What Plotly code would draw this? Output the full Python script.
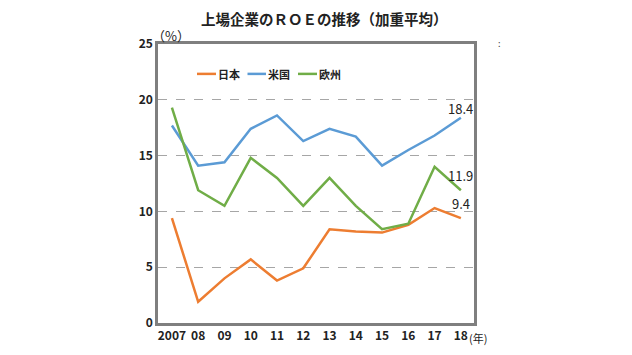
import plotly.graph_objects as go

years = ["2007", "08", "09", "10", "11", "12", "13", "14", "15", "16", "17", "18"]
japan = [9.4, 1.9, 4.0, 5.7, 3.8, 4.9, 8.4, 8.2, 8.1, 8.8, 10.3, 9.4]
usa = [17.7, 14.1, 14.4, 17.4, 18.6, 16.3, 17.4, 16.7, 14.1, 15.5, 16.8, 18.4]
europe = [19.3, 11.9, 10.5, 14.8, 13.0, 10.5, 13.0, 10.5, 8.4, 8.9, 14.0, 11.9]
series_names = ["日本", "米国", "欧州"]
colors = ["#ED7D31", "#5B9BD5", "#70AD47"]
end_labels = ["9.4", "18.4", "11.9"]
label_shift = [15, 9, 15]
title_text = "上場企業のＲＯＥの推移（加重平均）"

FONT = "Noto Sans CJK JP, Noto Sans, sans-serif"

fig = go.Figure()
for name, vals, col in zip(series_names, [japan, usa, europe], colors):
    fig.add_trace(go.Scatter(
        x=years, y=vals, name=name, mode="lines",
        line=dict(color=col, width=2.5), showlegend=False,
    ))

# end-of-series value labels, placed at the last data point (category index)
last = len(years) - 1
for vals, lab, sh in zip([japan, usa, europe], end_labels, label_shift):
    fig.add_annotation(x=last, y=vals[-1], xref="x", yref="y", text=lab, showarrow=False,
                       xanchor="center", yanchor="middle", yshift=sh,
                       font=dict(size=13, color="#222", family=FONT))

# page body has an 8px margin, so the figure is sized and offset to fit the window
fig.update_layout(
    width=624, height=347,
    margin=dict(l=150, r=158, t=36, b=32),
    paper_bgcolor="white", plot_bgcolor="white",
    font=dict(family=FONT, color="#222", size=12),
    showlegend=False,
    xaxis=dict(type="category", range=[-0.53, 11.5], showgrid=False,
               showline=True, linecolor="#7F7F7F", linewidth=2.5, mirror=True,
               ticks="", tickfont=dict(size=12, color="#222", weight="bold")),
    yaxis=dict(range=[0, 25], dtick=5, showgrid=True, gridcolor="#A6A6A6",
               griddash="dash", gridwidth=1.3, zeroline=False,
               showline=True, linecolor="#7F7F7F", linewidth=2.5, mirror=True,
               ticks="", tickfont=dict(size=12, color="#222", weight="bold")),
)

# title as an annotation centred above the plot
fig.add_annotation(text="<b>" + title_text + "</b>", xref="paper", yref="paper",
                   x=(324 - 158) / 316, y=(323 - 17) / 280, xanchor="center", yanchor="middle",
                   showarrow=False, font=dict(size=14.5, color="#222", family=FONT))

# legend drawn as in the original: short line sample directly followed by the label
leg_x = [(197, 216), (247.5, 266), (298, 317)]
leg_y = (323 - 73) / 280
for (a, b), name, col in zip(leg_x, series_names, colors):
    x0, x1 = (a - 158) / 316, (b - 158) / 316
    fig.add_shape(type="line", xref="paper", yref="paper", x0=x0, x1=x1, y0=leg_y, y1=leg_y,
                  line=dict(color=col, width=2.5))
    fig.add_annotation(text="<b>" + name + "</b>", xref="paper", yref="paper", x=x1, y=leg_y,
                       xanchor="left", yanchor="middle", showarrow=False,
                       font=dict(size=11, color="#222", family=FONT))

fig.add_annotation(text="（%）", xref="paper", yref="paper", x=0, y=1.0,
                   xanchor="left", yanchor="bottom", showarrow=False,
                   font=dict(size=13, color="#222", family=FONT), xshift=-8, yshift=-3)
fig.add_annotation(text="(年)", xref="paper", yref="paper", x=1.0, y=0,
                   xanchor="left", yanchor="top", showarrow=False,
                   font=dict(size=11, color="#222", family=FONT), yshift=-5, xshift=-7)
fig.add_annotation(text=":", xref="paper", yref="paper", x=1.07, y=1.0,
                   xanchor="left", yanchor="middle", showarrow=False,
                   font=dict(size=9, color="#444", family=FONT), yshift=1)

fig.write_html("out.html")
